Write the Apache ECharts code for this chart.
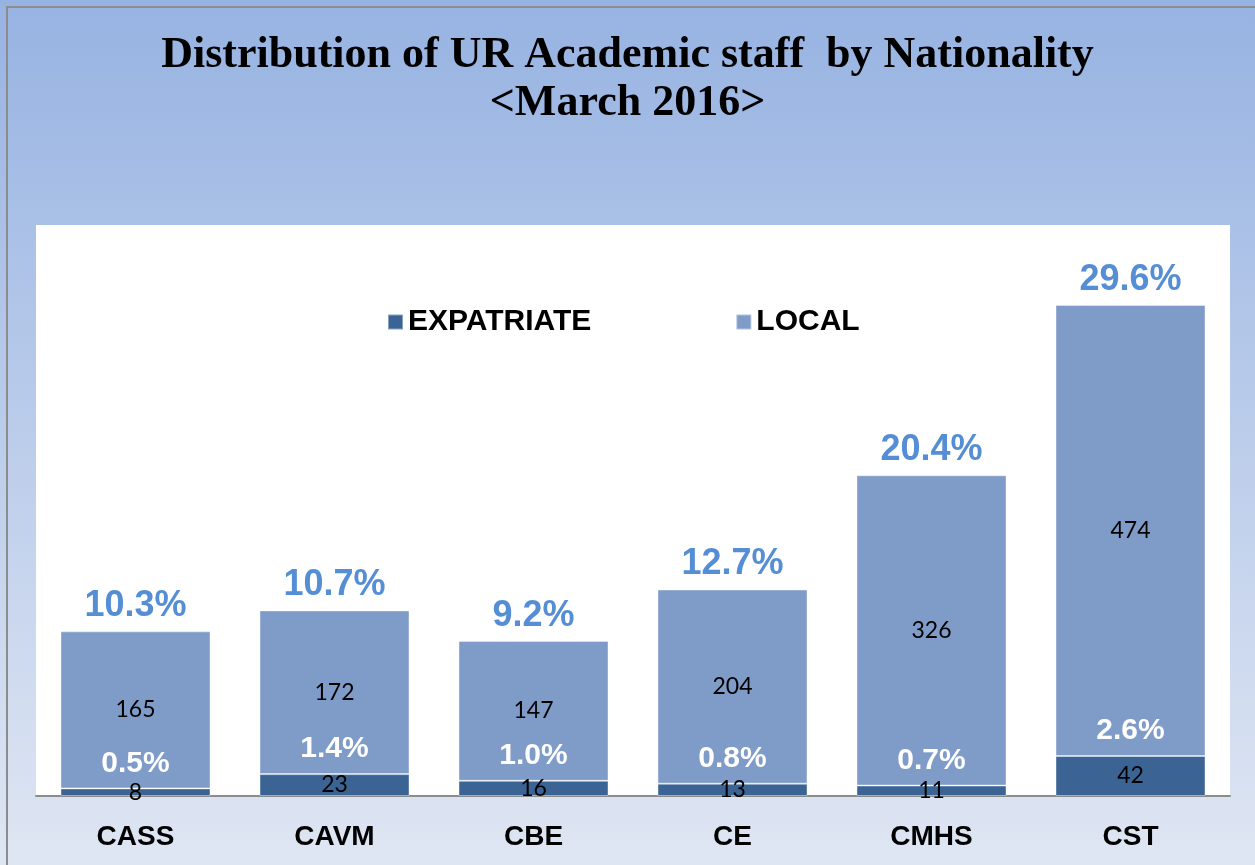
<!DOCTYPE html>
<html>
<head>
<meta charset="utf-8">
<script src="https://cdn.jsdelivr.net/npm/echarts@6/dist/echarts.min.js"></script>
<style>
  html, body { margin: 0; padding: 0; }
  #chart { width: 1255px; height: 865px; }
</style>
</head>
<body>
<div id="chart"></div>
<script>
  var categories = ['CASS', 'CAVM', 'CBE', 'CE', 'CMHS', 'CST'];
  var expatriate = [8, 23, 16, 13, 11, 42];
  var local = [165, 172, 147, 204, 326, 474];
  // shares of all academic staff, as printed on the chart
  var expatPct = ['0.5%', '1.4%', '1.0%', '0.8%', '0.7%', '2.6%'];
  var localPct = ['10.3%', '10.7%', '9.2%', '12.7%', '20.4%', '29.6%'];

  var totals = local.map(function (v, i) { return v + expatriate[i]; });

  var valueLabel = {
    show: true,
    position: 'inside',
    fontFamily: 'Lato',
    fontSize: 23,
    color: '#000'
  };

  var chart = echarts.init(document.getElementById('chart'));
  chart.setOption({
    backgroundColor: new echarts.graphic.LinearGradient(0, 0, 0, 1, [
      {offset: 0, color: '#97b3e2'},
      {offset: 1, color: '#dfe6f3'}
    ]),
    graphic: [
      {type: 'line', shape: {x1: 6, y1: 7, x2: 1255, y2: 7}, style: {stroke: '#8c8c8c', lineWidth: 2}},
      {type: 'line', shape: {x1: 7, y1: 6, x2: 7, y2: 865}, style: {stroke: '#8c8c8c', lineWidth: 2}}
    ],
    title: {
      text: 'Distribution of UR Academic staff  by Nationality\n<March 2016>',
      left: 'center',
      top: 27,
      textStyle: {
        fontFamily: 'Liberation Serif',
        fontWeight: 'bold',
        fontSize: 44,
        lineHeight: 48,
        color: '#000'
      }
    },
    legend: {
      data: ['EXPATRIATE', 'LOCAL'],
      left: 382,
      top: 302,
      itemWidth: 15,
      itemHeight: 15,
      itemGap: 144,
      icon: 'rect',
      textStyle: {fontFamily: 'Liberation Sans', fontWeight: 'bold', fontSize: 30, color: '#000'}
    },
    grid: {
      left: 36,
      top: 225,
      width: 1194,
      height: 571,
      show: true,
      backgroundColor: '#fff',
      borderWidth: 0
    },
    xAxis: {
      type: 'category',
      data: categories,
      axisLine: {lineStyle: {color: '#8c8c8c', width: 2}},
      axisTick: {show: false},
      axisLabel: {
        margin: 27,
        fontFamily: 'Liberation Sans',
        fontWeight: 'bold',
        fontSize: 28,
        color: '#000'
      }
    },
    yAxis: {
      type: 'value',
      min: 0,
      max: 600,
      show: false,
      splitLine: {show: false}
    },
    series: [
      {
        name: 'EXPATRIATE',
        type: 'bar',
        stack: 'staff',
        barWidth: 150,
        data: expatriate,
        itemStyle: {color: '#3b6495', borderColor: 'rgba(255,255,255,0.4)', borderWidth: 1},
        label: valueLabel
      },
      {
        name: 'LOCAL',
        type: 'bar',
        stack: 'staff',
        barWidth: 150,
        data: local,
        itemStyle: {color: '#7f9cc8', borderColor: 'rgba(255,255,255,0.4)', borderWidth: 1},
        label: valueLabel
      },
      {
        name: 'expatPct',
        type: 'bar',
        barWidth: 150,
        barGap: '-100%',
        data: expatriate,
        itemStyle: {color: 'rgba(0,0,0,0)'},
        silent: true,
        label: {
          show: true,
          position: 'top',
          distance: 10,
          fontFamily: 'Liberation Sans',
          fontWeight: 'bold',
          fontSize: 30,
          color: '#fff',
          formatter: function (p) { return expatPct[p.dataIndex]; }
        }
      },
      {
        name: 'localPct',
        type: 'bar',
        barWidth: 150,
        barGap: '-100%',
        data: totals,
        itemStyle: {color: 'rgba(0,0,0,0)'},
        silent: true,
        label: {
          show: true,
          position: 'top',
          distance: 7,
          fontFamily: 'Liberation Sans',
          fontWeight: 'bold',
          fontSize: 36,
          color: '#558ed5',
          formatter: function (p) { return localPct[p.dataIndex]; }
        }
      }
    ]
  });
</script>
</body>
</html>
